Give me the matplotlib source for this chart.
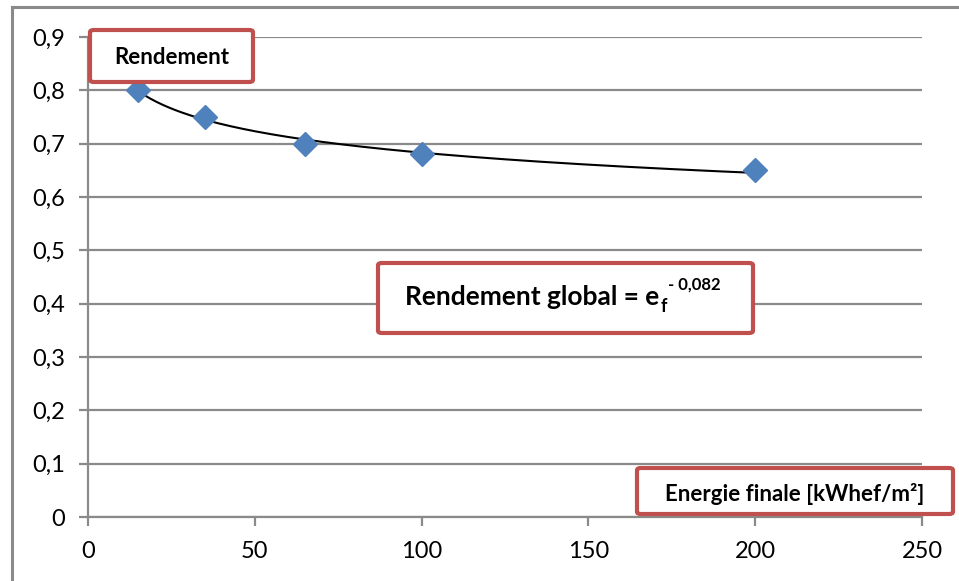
import numpy as np
import matplotlib.pyplot as plt
from matplotlib.patches import FancyBboxPatch
from matplotlib.lines import Line2D

# data
energie = [15, 35, 65, 100, 200]
rendement = [0.80, 0.75, 0.70, 0.68, 0.65]
xticks = [0, 50, 100, 150, 200, 250]
yticks = [0, 0.1, 0.2, 0.3, 0.4, 0.5, 0.6, 0.7, 0.8, 0.9]

plt.rcParams['font.family'] = ['Lato', 'DejaVu Sans']

W, H = 959, 581
fig = plt.figure(figsize=(W / 100, H / 100), dpi=100)
ax = fig.add_axes([88 / W, 1 - 517 / H, (922 - 88) / W, (517 - 37) / H])

grey = '#8a8a8a'
ax.set_xlim(0, 250)
ax.set_ylim(0, 0.9)
ax.set_xticks(xticks)
ax.set_yticks(yticks)
ax.set_xticklabels([str(t) for t in xticks])
ax.set_yticklabels([('%g' % t).replace('.', ',') for t in yticks])
ax.yaxis.grid(True, color=grey, lw=1.6)
ax.set_axisbelow(True)
for s in ['top', 'right']:
    ax.spines[s].set_visible(False)
for s in ['left', 'bottom']:
    ax.spines[s].set_color(grey)
    ax.spines[s].set_linewidth(1.6)
ax.tick_params(axis='both', colors=grey, width=1.6, length=6.5, labelsize=17, labelcolor='black')
ax.tick_params(axis='y', pad=10)
ax.tick_params(axis='x', pad=11)

# power trend line (like Excel's)
b, a = np.polyfit(np.log(energie), np.log(rendement), 1)
xs = np.linspace(min(energie), max(energie), 200)
ax.plot(xs, np.exp(a) * xs ** b, color='black', lw=1.5, zorder=2)

ax.plot(energie, rendement, linestyle='none', marker='D', ms=12, color='#4F81BD', zorder=3, clip_on=False)

# outer chart border (cropped)
fig.add_artist(Line2D([12 / W, 1], [1 - 7 / H, 1 - 7 / H], color=grey, lw=2.2))
fig.add_artist(Line2D([12 / W, 12 / W], [0, 1 - 7 / H], color=grey, lw=2.2))


def boite(x0, y0, x1, y1):
    p = FancyBboxPatch((x0 / W, 1 - y1 / H), (x1 - x0) / W, (y1 - y0) / H,
                       boxstyle='round,pad=0,rounding_size=0.004', transform=fig.transFigure,
                       facecolor='white', edgecolor='#C0504D', lw=3)
    fig.add_artist(p)


boite(90, 30, 253, 82)
fig.text(172 / W, 1 - 57 / H, 'Rendement', ha='center', va='center', fontsize=16, fontweight='bold')

boite(637, 468, 953, 514)
fig.text(795 / W, 1 - 494 / H, 'Energie finale [kWhef/m²]', ha='center', va='center',
         fontsize=16, fontweight='bold')

# formula box: main text + subscript + superscript
boite(378, 263, 753, 333)
renderer = fig.canvas.get_renderer()
t1 = fig.text(405 / W, 1 - 305 / H, 'Rendement global = e', ha='left', va='baseline',
              fontsize=19, fontweight='bold')
x_end = t1.get_window_extent(renderer).x1
t2 = fig.text(x_end / W + 0.001, 1 - 312 / H, 'f', ha='left', va='baseline',
              fontsize=13, fontweight='bold')
x_end2 = t2.get_window_extent(renderer).x1
fig.text(x_end2 / W + 0.001, 1 - 290 / H, '- 0,082', ha='left', va='baseline',
         fontsize=12, fontweight='bold')

fig.savefig('out.png', dpi=100)
